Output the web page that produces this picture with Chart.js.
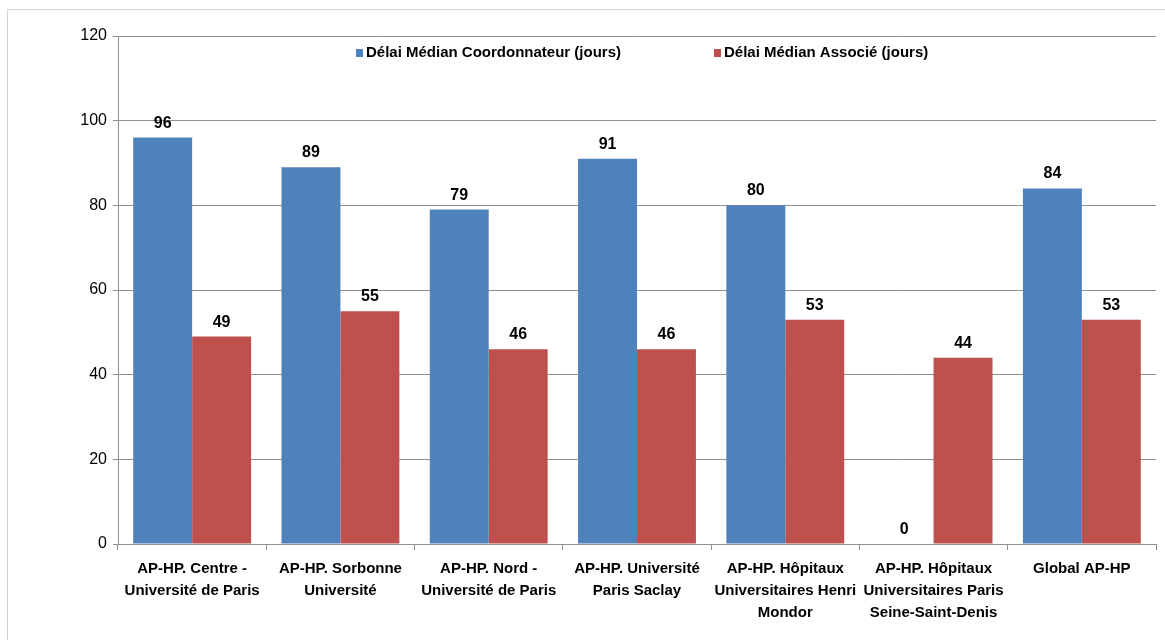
<!DOCTYPE html>
<html lang="fr">
<head>
    <meta charset="UTF-8">
    <title>Délai médian par GHU</title>
    <script src="https://cdn.jsdelivr.net/npm/chart.js"></script>
    <style>
        body {
            margin: 0;
            padding: 0;
            background: #fff;
        }
        .chart-box {
            position: relative;
            width: 1165px;
            height: 640px;
        }
    </style>
</head>
<body>
    <div class="chart-box">
        <canvas id="delaiChart"></canvas>
    </div>
    <script>
        // Categories (GHU) and median delays in days
        const categories = [
            ['AP-HP. Centre -', 'Université de Paris'],
            ['AP-HP. Sorbonne', 'Université'],
            ['AP-HP. Nord -', 'Université de Paris'],
            ['AP-HP. Université', 'Paris Saclay'],
            ['AP-HP. Hôpitaux', 'Universitaires Henri', 'Mondor'],
            ['AP-HP. Hôpitaux', 'Universitaires Paris', 'Seine-Saint-Denis'],
            ['Global AP-HP']
        ];
        const delaiCoordonnateur = [96, 89, 79, 91, 80, 0, 84];
        const delaiAssocie = [49, 55, 46, 46, 53, 44, 53];

        const FONT = "'Liberation Sans', Arial, sans-serif";
        const GRID = '#8f8f8f';

        // Frame around the picture
        const framePlugin = {
            id: 'frame',
            beforeDraw(chart) {
                const ctx = chart.ctx;
                ctx.save();
                ctx.strokeStyle = '#d4d4d4';
                ctx.lineWidth = 1;
                ctx.strokeRect(7.5, 9.5, chart.width, chart.height);
                ctx.restore();
            }
        };

        // Value labels above each bar
        const valueLabels = {
            id: 'valueLabels',
            afterDatasetsDraw(chart) {
                const ctx = chart.ctx;
                ctx.save();
                ctx.font = 'bold 16px ' + FONT;
                ctx.fillStyle = '#000';
                ctx.textAlign = 'center';
                ctx.textBaseline = 'alphabetic';
                chart.data.datasets.forEach((ds, i) => {
                    chart.getDatasetMeta(i).data.forEach((bar, j) => {
                        ctx.fillText(ds.data[j], bar.x, bar.y - 10);
                    });
                });
                ctx.restore();
            }
        };

        // Legend drawn inside the plot area
        const innerLegend = {
            id: 'innerLegend',
            afterDraw(chart) {
                const ctx = chart.ctx;
                const startX = [356, 714];
                const y = 53;
                ctx.save();
                ctx.font = 'bold 15px ' + FONT;
                ctx.textBaseline = 'middle';
                ctx.textAlign = 'left';
                chart.data.datasets.forEach((ds, i) => {
                    ctx.fillStyle = ds.backgroundColor;
                    ctx.fillRect(startX[i], y - 4, 7, 8);
                    ctx.fillStyle = '#000';
                    ctx.fillText(ds.label, startX[i] + 10, y);
                });
                ctx.restore();
            }
        };

        new Chart(document.getElementById('delaiChart'), {
            type: 'bar',
            data: {
                labels: categories,
                datasets: [{
                    label: 'Délai Médian Coordonnateur (jours)',
                    data: delaiCoordonnateur,
                    backgroundColor: '#4F81BD',
                    categoryPercentage: 0.795,
                    barPercentage: 1.0
                }, {
                    label: 'Délai Médian Associé (jours)',
                    data: delaiAssocie,
                    backgroundColor: '#C0504D',
                    categoryPercentage: 0.795,
                    barPercentage: 1.0
                }]
            },
            options: {
                responsive: true,
                maintainAspectRatio: false,
                animation: false,
                layout: { padding: { top: 36, right: 9, bottom: 0, left: 0 } },
                plugins: {
                    legend: { display: false },
                    tooltip: { enabled: false }
                },
                scales: {
                    x: {
                        grid: {
                            drawOnChartArea: false,
                            color: GRID,
                            tickLength: 6
                        },
                        border: { color: GRID },
                        ticks: {
                            color: '#000',
                            padding: 8,
                            maxRotation: 0,
                            autoSkip: false,
                            font: { family: FONT, size: 15, weight: 'bold', lineHeight: 1.47 }
                        },
                        afterFit(scale) { scale.height = 96; }
                    },
                    y: {
                        min: 0,
                        max: 120,
                        ticks: {
                            stepSize: 20,
                            color: '#000',
                            padding: 6,
                            font: { family: FONT, size: 16 }
                        },
                        grid: {
                            color: GRID,
                            tickLength: 5
                        },
                        border: { color: GRID },
                        afterFit(scale) { scale.width = 118; }
                    }
                }
            },
            plugins: [framePlugin, valueLabels, innerLegend]
        });
    </script>
</body>
</html>
